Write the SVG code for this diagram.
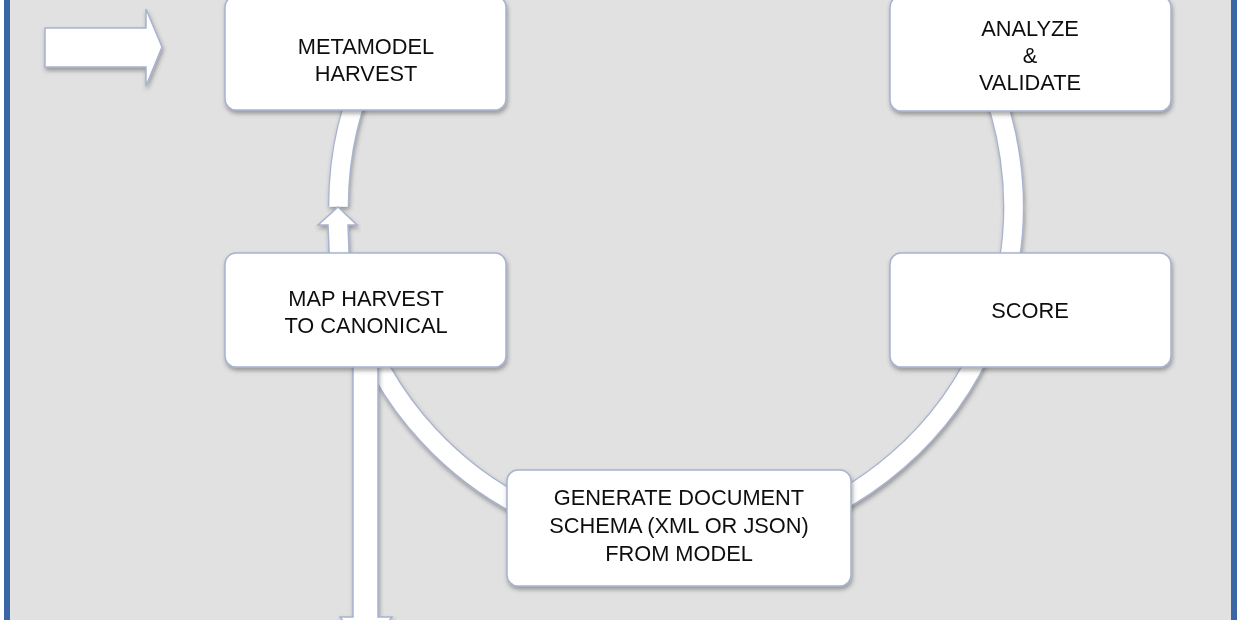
<svg xmlns="http://www.w3.org/2000/svg" width="1240" height="620" viewBox="0 0 1240 620">
  <defs>
    <filter id="sh" x="-10%" y="-10%" width="120%" height="130%">
      <feDropShadow dx="1" dy="3" stdDeviation="2" flood-color="#404040" flood-opacity="0.45"/>
    </filter>
    <style>
      .box { fill: #ffffff; stroke: #a7b3d1; stroke-width: 1.5; }
      .shape { fill: #ffffff; stroke: #a7b3d1; stroke-width: 1.5; stroke-linejoin: miter; }
      .lbl { font-family: "Liberation Sans", Arial, sans-serif; font-size: 21.8px; fill: #111111; text-anchor: middle; }
    </style>
  </defs>

  <rect x="0" y="0" width="1240" height="620" fill="#ffffff"/>
  <rect x="7" y="-10" width="1227" height="640" fill="#e1e1e1" stroke="#3b66a6" stroke-width="6"/>

  <g id="connectors">
    <g filter="url(#sh)">
      <path d="M 338.5 206 A 337.5 337.5 0 1 1 351.9 300" fill="none" stroke="#a7b3d1" stroke-width="21"/>
      <path d="M 338.5 206.8 A 337.5 337.5 0 1 1 351.9 300" fill="none" stroke="#ffffff" stroke-width="18.5"/>
    </g>
    <polygon class="shape" filter="url(#sh)" points="338,207 357,225 348,225 349.5,262 329.5,262 328,225 318,225"/>
    <polygon class="shape" filter="url(#sh)" points="353,360 378,360 378,617 392,617 365.5,650 340,617 353,617"/>
    <polygon id="entry-arrow" class="shape" filter="url(#sh)" points="45,28 146,28 146,9 162,47 146,86 146,67 45,67"/>
  </g>

  <g id="metamodel-harvest" filter="url(#sh)">
    <rect class="box" x="225" y="-4" width="281" height="114" rx="11"/>
    <text class="lbl" x="366" y="54">METAMODEL</text>
    <text class="lbl" x="366" y="81">HARVEST</text>
  </g>

  <g id="analyze-validate" filter="url(#sh)">
    <rect class="box" x="890" y="-4" width="281" height="115" rx="11"/>
    <text class="lbl" x="1030" y="36">ANALYZE</text>
    <text class="lbl" x="1030" y="63">&amp;</text>
    <text class="lbl" x="1030" y="90">VALIDATE</text>
  </g>

  <g id="map-harvest" filter="url(#sh)">
    <rect class="box" x="225" y="253" width="281" height="114" rx="11"/>
    <text class="lbl" x="366" y="306">MAP HARVEST</text>
    <text class="lbl" x="366" y="333">TO CANONICAL</text>
  </g>

  <g id="score" filter="url(#sh)">
    <rect class="box" x="890" y="253" width="281" height="114" rx="11"/>
    <text class="lbl" x="1030" y="318">SCORE</text>
  </g>

  <g id="generate-schema" filter="url(#sh)">
    <rect class="box" x="507" y="470" width="344" height="116" rx="11"/>
    <text class="lbl" x="679" y="505">GENERATE DOCUMENT</text>
    <text class="lbl" x="679" y="533">SCHEMA (XML OR JSON)</text>
    <text class="lbl" x="679" y="561">FROM MODEL</text>
  </g>
</svg>
